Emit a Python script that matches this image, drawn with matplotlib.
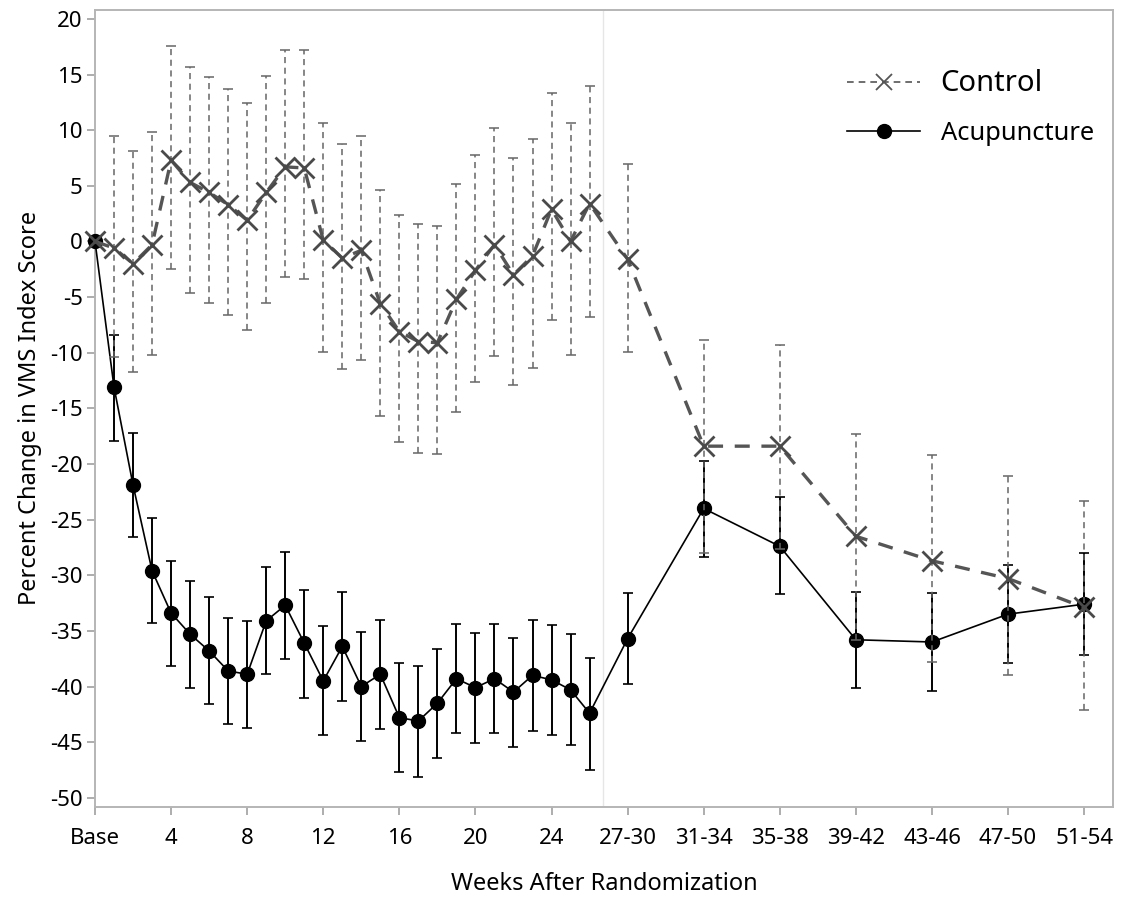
import numpy as np
import matplotlib
matplotlib.use("Agg")
import matplotlib.pyplot as plt
from matplotlib.lines import Line2D

plt.rcParams['font.family'] = ['Noto Sans', 'DejaVu Sans']
plt.rcParams['axes.unicode_minus'] = False

# ---- data ----
weekly_labels = ['Base'] + [str(w) for w in range(1, 27)]
period_labels = ['27-30', '31-34', '35-38', '39-42', '43-46', '47-50', '51-54']
tick_labels = ['Base', '4', '8', '12', '16', '20', '24'] + period_labels

control_mean = [0.0, -0.6, -2.0, -0.3, 7.3, 5.3, 4.4, 3.3, 1.9, 4.4, 6.7, 6.6, 0.1, -1.5, -0.8,
                -5.6, -8.1, -9.0, -9.1, -5.2, -2.6, -0.3, -3.0, -1.3, 2.9, 0.0, 3.4,
                -1.6, -18.4, -18.4, -26.5, -28.7, -30.3, -32.9]
control_upper = [np.nan, 9.5, 8.1, 9.8, 17.6, 15.7, 14.8, 13.7, 12.4, 14.9, 17.2, 17.2, 10.6, 8.8, 9.5,
                 4.6, 2.4, 1.6, 1.4, 5.2, 7.8, 10.2, 7.5, 9.2, 13.3, 10.6, 14.0,
                 7.0, -8.9, -9.3, -17.3, -19.2, -21.1, -23.3]
control_lower = [np.nan, -10.4, -11.7, -10.2, -2.5, -4.6, -5.5, -6.6, -8.0, -5.5, -3.2, -3.4, -9.9, -11.5, -10.7,
                 -15.7, -18.0, -19.0, -19.1, -15.3, -12.6, -10.3, -12.9, -11.4, -7.1, -10.2, -6.8,
                 -9.9, -28.0, -27.6, -35.8, -37.8, -39.0, -42.1]

acu_mean = [0.0, -13.1, -21.9, -29.6, -33.4, -35.3, -36.8, -38.6, -38.9, -34.1, -32.7, -36.1, -39.5, -36.4, -40.0,
            -38.9, -42.8, -43.1, -41.5, -39.3, -40.1, -39.3, -40.5, -39.0, -39.4, -40.3, -42.4,
            -35.7, -24.0, -27.4, -35.8, -36.0, -33.5, -32.6]
acu_upper = [np.nan, -8.4, -17.2, -24.9, -28.7, -30.5, -32.0, -33.8, -34.1, -29.3, -27.9, -31.3, -34.6, -31.5, -35.1,
             -34.0, -37.9, -38.2, -36.6, -34.4, -35.2, -34.4, -35.6, -34.0, -34.5, -35.3, -37.4,
             -31.6, -19.7, -23.0, -31.5, -31.6, -29.1, -28.0]
acu_lower = [np.nan, -17.9, -26.6, -34.3, -38.2, -40.1, -41.6, -43.4, -43.7, -38.9, -37.5, -41.0, -44.4, -41.3, -44.9,
             -43.8, -47.7, -48.1, -46.4, -44.2, -45.1, -44.2, -45.4, -44.0, -44.4, -45.3, -47.5,
             -39.8, -28.4, -31.7, -40.1, -40.4, -37.9, -37.2]

# ---- positions on a week scale ----
x_weekly = np.arange(len(weekly_labels))
x_period = np.array([int(p.split('-')[0]) + 1 for p in period_labels])
x = np.concatenate([x_weekly, x_period]).astype(float)
tick_pos = [0, 4, 8, 12, 16, 20, 24] + list(x_period)

cm = np.array(control_mean); cu = np.array(control_upper); cl = np.array(control_lower)
am = np.array(acu_mean); au = np.array(acu_upper); al = np.array(acu_lower)

fig = plt.figure(figsize=(11.23, 8.99), dpi=100)
ax = fig.add_axes([0.0846, 0.1027, 0.9062, 0.8862])

ax.axvline(26.7, color='#e6e6e6', lw=1.0, zorder=0)

# Acupuncture
ax.errorbar(x, am, yerr=[am - al, au - am], fmt='none', ecolor='black',
            elinewidth=1.4, capsize=3.5, capthick=1.2, zorder=2, clip_on=False)
ax.plot(x, am, color='black', lw=1.2, marker='o', markersize=10, markerfacecolor='black',
        markeredgecolor='black', zorder=3, clip_on=False)

# Control
eb_c = ax.errorbar(x, cm, yerr=[cm - cl, cu - cm], fmt='none', ecolor='#666666',
                   elinewidth=1.1, capsize=3.5, capthick=1.1, zorder=4, clip_on=False)
for lc in eb_c[2]:
    lc.set_linestyle((0, (4, 3)))
ax.plot(x, cm, color='#555555', lw=2.4, ls=(0, (4.5, 3.5)), marker='x', markersize=14,
        markeredgewidth=2.0, markeredgecolor='#4a4a4a', zorder=5, clip_on=False)

ax.set_xlim(0, 53.5)
ax.set_ylim(-50.8, 20.8)
ax.set_yticks(np.arange(-50, 21, 5))
ax.set_xticks(tick_pos)
ax.set_xticklabels(tick_labels)

for s in ax.spines.values():
    s.set_color('#b5b5b5')
    s.set_linewidth(1.4)
ax.tick_params(axis='both', colors='#a0a0a0', length=6, width=1.2, labelcolor='black', labelsize=16)
ax.tick_params(axis='y', pad=3)
ax.tick_params(axis='x', pad=9)

ax.set_xlabel('Weeks After Randomization', fontsize=17, labelpad=17)
ax.set_ylabel('Percent Change in VMS Index Score', fontsize=17, labelpad=6)

handles = [
    Line2D([], [], color='#555555', lw=1.2, ls=(0, (4, 3)), marker='x', markersize=11,
           markeredgewidth=1.3, markeredgecolor='#555555'),
    Line2D([], [], color='black', lw=1.2, marker='o', markersize=10, markerfacecolor='black'),
]
leg = ax.legend(handles, ['Control', 'Acupuncture'], loc='upper right',
                bbox_to_anchor=(1.004, 0.955), frameon=False, handlelength=2.9,
                handletextpad=0.8, labelspacing=0.9, fontsize=18.3)
leg.get_texts()[0].set_fontsize(21)

fig.savefig('out.png', dpi=100)
